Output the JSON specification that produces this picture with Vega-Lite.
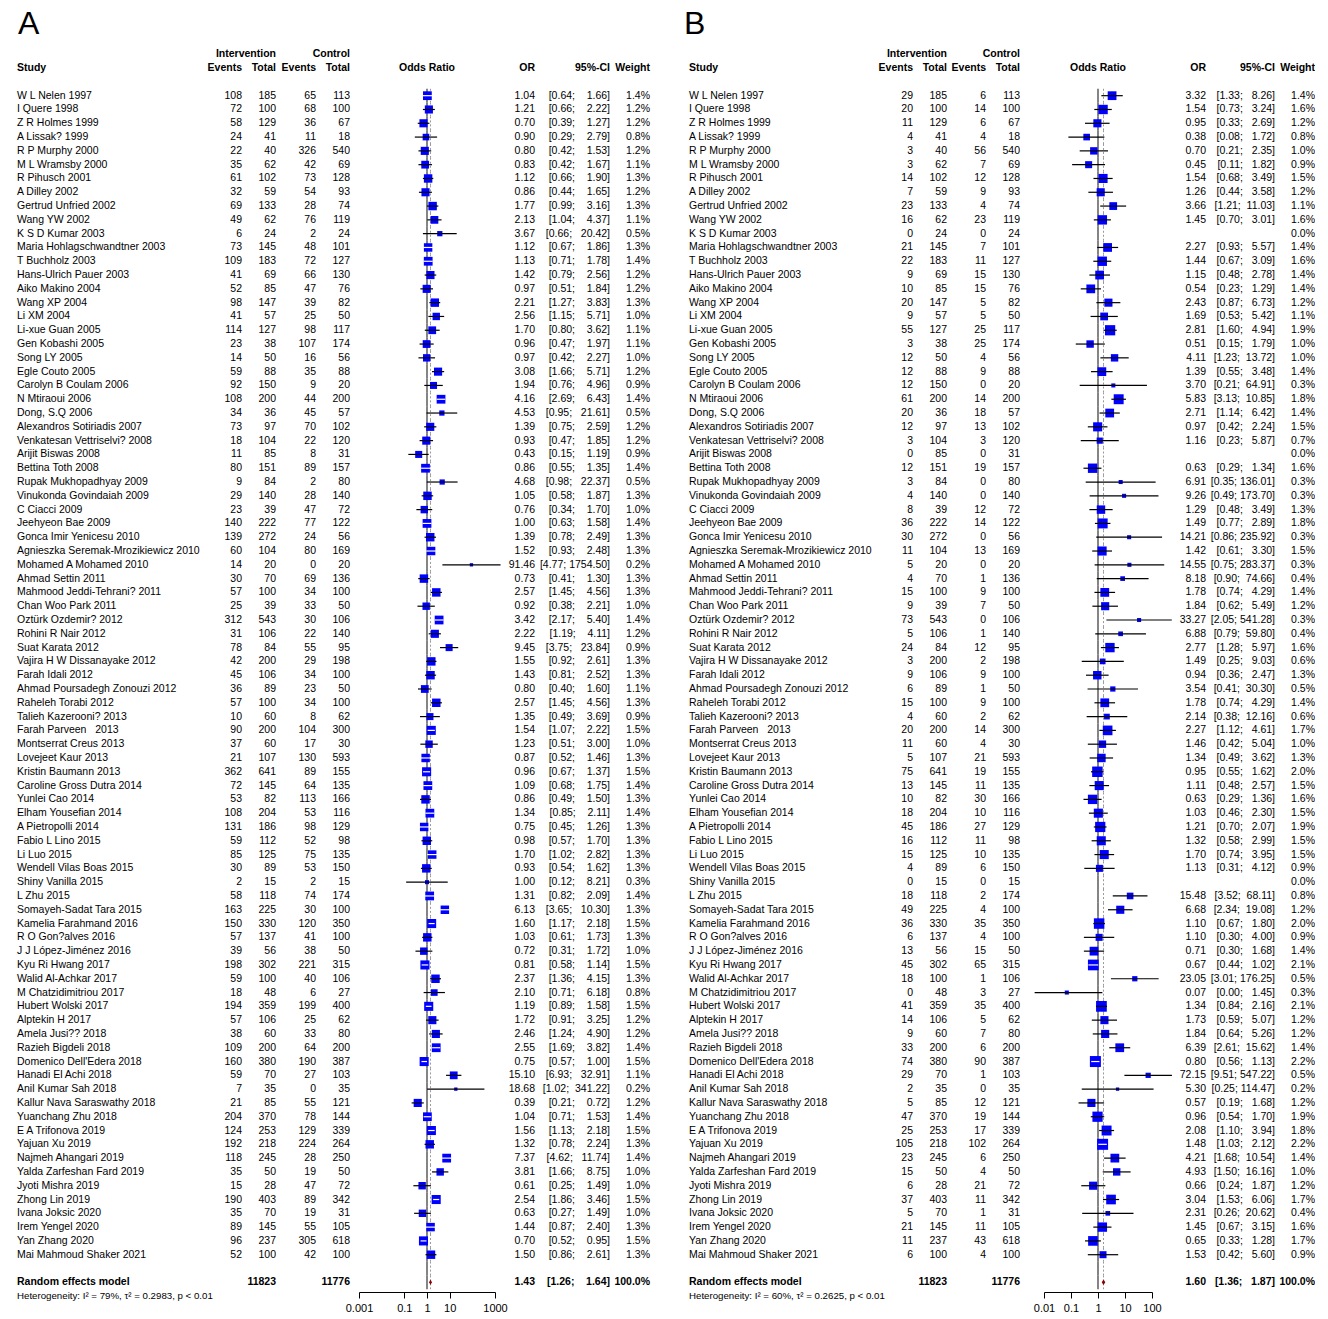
{
"$schema":"https://vega.github.io/schema/vega-lite/v6.json",
"background":"white",
"padding":{"left":17,"top":6,"right":0,"bottom":0},
"config":{"view":{"stroke":null},"text":{"font":"Liberation Sans","fontSize":10.5,"color":"black"},"axis":{"labelFont":"Liberation Sans"}},
"datasets":{
"A":[
{"k":"_p0","kind":"x"},{"k":"A","kind":"t"},{"k":"_p1","kind":"x"},{"k":"_h1","kind":"hd1"},{"k":"_h2","kind":"hd"},{"k":"_p2","kind":"x"},
{"k":"W L Nelen 1997","kind":"s","e1":108,"n1":185,"e2":65,"n2":113,"or":1.04,"lo":0.64,"hi":1.66,"ci":"[0.64;\u00a0\u00a0\u00a0\u00a01.66]","w":0.014},
{"k":"I Quere 1998","kind":"s","e1":72,"n1":100,"e2":68,"n2":100,"or":1.21,"lo":0.66,"hi":2.22,"ci":"[0.66;\u00a0\u00a0\u00a0\u00a02.22]","w":0.012},
{"k":"Z R Holmes 1999","kind":"s","e1":58,"n1":129,"e2":36,"n2":67,"or":0.70,"lo":0.39,"hi":1.27,"ci":"[0.39;\u00a0\u00a0\u00a0\u00a01.27]","w":0.012},
{"k":"A Lissak? 1999","kind":"s","e1":24,"n1":41,"e2":11,"n2":18,"or":0.90,"lo":0.29,"hi":2.79,"ci":"[0.29;\u00a0\u00a0\u00a0\u00a02.79]","w":0.008},
{"k":"R P Murphy 2000","kind":"s","e1":22,"n1":40,"e2":326,"n2":540,"or":0.80,"lo":0.42,"hi":1.53,"ci":"[0.42;\u00a0\u00a0\u00a0\u00a01.53]","w":0.012},
{"k":"M L Wramsby 2000","kind":"s","e1":35,"n1":62,"e2":42,"n2":69,"or":0.83,"lo":0.42,"hi":1.67,"ci":"[0.42;\u00a0\u00a0\u00a0\u00a01.67]","w":0.011},
{"k":"R Pihusch 2001","kind":"s","e1":61,"n1":102,"e2":73,"n2":128,"or":1.12,"lo":0.66,"hi":1.90,"ci":"[0.66;\u00a0\u00a0\u00a0\u00a01.90]","w":0.013},
{"k":"A Dilley 2002","kind":"s","e1":32,"n1":59,"e2":54,"n2":93,"or":0.86,"lo":0.44,"hi":1.65,"ci":"[0.44;\u00a0\u00a0\u00a0\u00a01.65]","w":0.012},
{"k":"Gertrud Unfried 2002","kind":"s","e1":69,"n1":133,"e2":28,"n2":74,"or":1.77,"lo":0.99,"hi":3.16,"ci":"[0.99;\u00a0\u00a0\u00a0\u00a03.16]","w":0.013},
{"k":"Wang YW 2002","kind":"s","e1":49,"n1":62,"e2":76,"n2":119,"or":2.13,"lo":1.04,"hi":4.37,"ci":"[1.04;\u00a0\u00a0\u00a0\u00a04.37]","w":0.011},
{"k":"K S D Kumar 2003","kind":"s","e1":6,"n1":24,"e2":2,"n2":24,"or":3.67,"lo":0.66,"hi":20.42,"ci":"[0.66;\u00a0\u00a0\u00a020.42]","w":0.005},
{"k":"Maria Hohlagschwandtner 2003","kind":"s","e1":73,"n1":145,"e2":48,"n2":101,"or":1.12,"lo":0.67,"hi":1.86,"ci":"[0.67;\u00a0\u00a0\u00a0\u00a01.86]","w":0.013},
{"k":"T Buchholz 2003","kind":"s","e1":109,"n1":183,"e2":72,"n2":127,"or":1.13,"lo":0.71,"hi":1.78,"ci":"[0.71;\u00a0\u00a0\u00a0\u00a01.78]","w":0.014},
{"k":"Hans-Ulrich Pauer 2003","kind":"s","e1":41,"n1":69,"e2":66,"n2":130,"or":1.42,"lo":0.79,"hi":2.56,"ci":"[0.79;\u00a0\u00a0\u00a0\u00a02.56]","w":0.012},
{"k":"Aiko Makino 2004","kind":"s","e1":52,"n1":85,"e2":47,"n2":76,"or":0.97,"lo":0.51,"hi":1.84,"ci":"[0.51;\u00a0\u00a0\u00a0\u00a01.84]","w":0.012},
{"k":"Wang XP 2004","kind":"s","e1":98,"n1":147,"e2":39,"n2":82,"or":2.21,"lo":1.27,"hi":3.83,"ci":"[1.27;\u00a0\u00a0\u00a0\u00a03.83]","w":0.013},
{"k":"Li XM 2004","kind":"s","e1":41,"n1":57,"e2":25,"n2":50,"or":2.56,"lo":1.15,"hi":5.71,"ci":"[1.15;\u00a0\u00a0\u00a0\u00a05.71]","w":0.010},
{"k":"Li-xue Guan 2005","kind":"s","e1":114,"n1":127,"e2":98,"n2":117,"or":1.70,"lo":0.80,"hi":3.62,"ci":"[0.80;\u00a0\u00a0\u00a0\u00a03.62]","w":0.011},
{"k":"Gen Kobashi 2005","kind":"s","e1":23,"n1":38,"e2":107,"n2":174,"or":0.96,"lo":0.47,"hi":1.97,"ci":"[0.47;\u00a0\u00a0\u00a0\u00a01.97]","w":0.011},
{"k":"Song LY 2005","kind":"s","e1":14,"n1":50,"e2":16,"n2":56,"or":0.97,"lo":0.42,"hi":2.27,"ci":"[0.42;\u00a0\u00a0\u00a0\u00a02.27]","w":0.010},
{"k":"Egle Couto 2005","kind":"s","e1":59,"n1":88,"e2":35,"n2":88,"or":3.08,"lo":1.66,"hi":5.71,"ci":"[1.66;\u00a0\u00a0\u00a0\u00a05.71]","w":0.012},
{"k":"Carolyn B Coulam 2006","kind":"s","e1":92,"n1":150,"e2":9,"n2":20,"or":1.94,"lo":0.76,"hi":4.96,"ci":"[0.76;\u00a0\u00a0\u00a0\u00a04.96]","w":0.009},
{"k":"N Mtiraoui 2006","kind":"s","e1":108,"n1":200,"e2":44,"n2":200,"or":4.16,"lo":2.69,"hi":6.43,"ci":"[2.69;\u00a0\u00a0\u00a0\u00a06.43]","w":0.014},
{"k":"Dong, S.Q 2006","kind":"s","e1":34,"n1":36,"e2":45,"n2":57,"or":4.53,"lo":0.95,"hi":21.61,"ci":"[0.95;\u00a0\u00a0\u00a021.61]","w":0.005},
{"k":"Alexandros Sotiriadis 2007","kind":"s","e1":73,"n1":97,"e2":70,"n2":102,"or":1.39,"lo":0.75,"hi":2.59,"ci":"[0.75;\u00a0\u00a0\u00a0\u00a02.59]","w":0.012},
{"k":"Venkatesan Vettriselvi? 2008","kind":"s","e1":18,"n1":104,"e2":22,"n2":120,"or":0.93,"lo":0.47,"hi":1.85,"ci":"[0.47;\u00a0\u00a0\u00a0\u00a01.85]","w":0.012},
{"k":"Arijit Biswas 2008","kind":"s","e1":11,"n1":85,"e2":8,"n2":31,"or":0.43,"lo":0.15,"hi":1.19,"ci":"[0.15;\u00a0\u00a0\u00a0\u00a01.19]","w":0.009},
{"k":"Bettina Toth 2008","kind":"s","e1":80,"n1":151,"e2":89,"n2":157,"or":0.86,"lo":0.55,"hi":1.35,"ci":"[0.55;\u00a0\u00a0\u00a0\u00a01.35]","w":0.014},
{"k":"Rupak Mukhopadhyay 2009","kind":"s","e1":9,"n1":84,"e2":2,"n2":80,"or":4.68,"lo":0.98,"hi":22.37,"ci":"[0.98;\u00a0\u00a0\u00a022.37]","w":0.005},
{"k":"Vinukonda Govindaiah 2009","kind":"s","e1":29,"n1":140,"e2":28,"n2":140,"or":1.05,"lo":0.58,"hi":1.87,"ci":"[0.58;\u00a0\u00a0\u00a0\u00a01.87]","w":0.013},
{"k":"C Ciacci 2009","kind":"s","e1":23,"n1":39,"e2":47,"n2":72,"or":0.76,"lo":0.34,"hi":1.70,"ci":"[0.34;\u00a0\u00a0\u00a0\u00a01.70]","w":0.010},
{"k":"Jeehyeon Bae 2009","kind":"s","e1":140,"n1":222,"e2":77,"n2":122,"or":1.00,"lo":0.63,"hi":1.58,"ci":"[0.63;\u00a0\u00a0\u00a0\u00a01.58]","w":0.014},
{"k":"Gonca Imir Yenicesu 2010","kind":"s","e1":139,"n1":272,"e2":24,"n2":56,"or":1.39,"lo":0.78,"hi":2.49,"ci":"[0.78;\u00a0\u00a0\u00a0\u00a02.49]","w":0.013},
{"k":"Agnieszka Seremak-Mrozikiewicz 2010","kind":"s","e1":60,"n1":104,"e2":80,"n2":169,"or":1.52,"lo":0.93,"hi":2.48,"ci":"[0.93;\u00a0\u00a0\u00a0\u00a02.48]","w":0.013},
{"k":"Mohamed A Mohamed 2010","kind":"s","e1":14,"n1":20,"e2":0,"n2":20,"or":91.46,"lo":4.77,"hi":1754.50,"ci":"[4.77;\u00a01754.50]","w":0.002},
{"k":"Ahmad Settin 2011","kind":"s","e1":30,"n1":70,"e2":69,"n2":136,"or":0.73,"lo":0.41,"hi":1.30,"ci":"[0.41;\u00a0\u00a0\u00a0\u00a01.30]","w":0.013},
{"k":"Mahmood Jeddi-Tehrani? 2011","kind":"s","e1":57,"n1":100,"e2":34,"n2":100,"or":2.57,"lo":1.45,"hi":4.56,"ci":"[1.45;\u00a0\u00a0\u00a0\u00a04.56]","w":0.013},
{"k":"Chan Woo Park 2011","kind":"s","e1":25,"n1":39,"e2":33,"n2":50,"or":0.92,"lo":0.38,"hi":2.21,"ci":"[0.38;\u00a0\u00a0\u00a0\u00a02.21]","w":0.010},
{"k":"Oztürk Ozdemir? 2012","kind":"s","e1":312,"n1":543,"e2":30,"n2":106,"or":3.42,"lo":2.17,"hi":5.40,"ci":"[2.17;\u00a0\u00a0\u00a0\u00a05.40]","w":0.014},
{"k":"Rohini R Nair 2012","kind":"s","e1":31,"n1":106,"e2":22,"n2":140,"or":2.22,"lo":1.19,"hi":4.11,"ci":"[1.19;\u00a0\u00a0\u00a0\u00a04.11]","w":0.012},
{"k":"Suat Karata 2012","kind":"s","e1":78,"n1":84,"e2":55,"n2":95,"or":9.45,"lo":3.75,"hi":23.84,"ci":"[3.75;\u00a0\u00a0\u00a023.84]","w":0.009},
{"k":"Vajira H W Dissanayake 2012","kind":"s","e1":42,"n1":200,"e2":29,"n2":198,"or":1.55,"lo":0.92,"hi":2.61,"ci":"[0.92;\u00a0\u00a0\u00a0\u00a02.61]","w":0.013},
{"k":"Farah Idali 2012","kind":"s","e1":45,"n1":106,"e2":34,"n2":100,"or":1.43,"lo":0.81,"hi":2.52,"ci":"[0.81;\u00a0\u00a0\u00a0\u00a02.52]","w":0.013},
{"k":"Ahmad Poursadegh Zonouzi 2012","kind":"s","e1":36,"n1":89,"e2":23,"n2":50,"or":0.80,"lo":0.40,"hi":1.60,"ci":"[0.40;\u00a0\u00a0\u00a0\u00a01.60]","w":0.011},
{"k":"Raheleh Torabi 2012","kind":"s","e1":57,"n1":100,"e2":34,"n2":100,"or":2.57,"lo":1.45,"hi":4.56,"ci":"[1.45;\u00a0\u00a0\u00a0\u00a04.56]","w":0.013},
{"k":"Talieh Kazerooni? 2013","kind":"s","e1":10,"n1":60,"e2":8,"n2":62,"or":1.35,"lo":0.49,"hi":3.69,"ci":"[0.49;\u00a0\u00a0\u00a0\u00a03.69]","w":0.009},
{"k":"Farah Parveen\u00a0\u00a0\u00a02013","kind":"s","e1":90,"n1":200,"e2":104,"n2":300,"or":1.54,"lo":1.07,"hi":2.22,"ci":"[1.07;\u00a0\u00a0\u00a0\u00a02.22]","w":0.015},
{"k":"Montserrat Creus 2013","kind":"s","e1":37,"n1":60,"e2":17,"n2":30,"or":1.23,"lo":0.51,"hi":3.00,"ci":"[0.51;\u00a0\u00a0\u00a0\u00a03.00]","w":0.010},
{"k":"Lovejeet Kaur 2013","kind":"s","e1":21,"n1":107,"e2":130,"n2":593,"or":0.87,"lo":0.52,"hi":1.46,"ci":"[0.52;\u00a0\u00a0\u00a0\u00a01.46]","w":0.013},
{"k":"Kristin Baumann 2013","kind":"s","e1":362,"n1":641,"e2":89,"n2":155,"or":0.96,"lo":0.67,"hi":1.37,"ci":"[0.67;\u00a0\u00a0\u00a0\u00a01.37]","w":0.015},
{"k":"Caroline Gross Dutra 2014","kind":"s","e1":72,"n1":145,"e2":64,"n2":135,"or":1.09,"lo":0.68,"hi":1.75,"ci":"[0.68;\u00a0\u00a0\u00a0\u00a01.75]","w":0.014},
{"k":"Yunlei Cao 2014","kind":"s","e1":53,"n1":82,"e2":113,"n2":166,"or":0.86,"lo":0.49,"hi":1.50,"ci":"[0.49;\u00a0\u00a0\u00a0\u00a01.50]","w":0.013},
{"k":"Elham Yousefian 2014","kind":"s","e1":108,"n1":204,"e2":53,"n2":116,"or":1.34,"lo":0.85,"hi":2.11,"ci":"[0.85;\u00a0\u00a0\u00a0\u00a02.11]","w":0.014},
{"k":"A Pietropolli 2014","kind":"s","e1":131,"n1":186,"e2":98,"n2":129,"or":0.75,"lo":0.45,"hi":1.26,"ci":"[0.45;\u00a0\u00a0\u00a0\u00a01.26]","w":0.013},
{"k":"Fabio L Lino 2015","kind":"s","e1":59,"n1":112,"e2":52,"n2":98,"or":0.98,"lo":0.57,"hi":1.70,"ci":"[0.57;\u00a0\u00a0\u00a0\u00a01.70]","w":0.013},
{"k":"Li Luo 2015","kind":"s","e1":85,"n1":125,"e2":75,"n2":135,"or":1.70,"lo":1.02,"hi":2.82,"ci":"[1.02;\u00a0\u00a0\u00a0\u00a02.82]","w":0.013},
{"k":"Wendell Vilas Boas 2015","kind":"s","e1":30,"n1":89,"e2":53,"n2":150,"or":0.93,"lo":0.54,"hi":1.62,"ci":"[0.54;\u00a0\u00a0\u00a0\u00a01.62]","w":0.013},
{"k":"Shiny Vanilla 2015","kind":"s","e1":2,"n1":15,"e2":2,"n2":15,"or":1.00,"lo":0.12,"hi":8.21,"ci":"[0.12;\u00a0\u00a0\u00a0\u00a08.21]","w":0.003},
{"k":"L Zhu 2015","kind":"s","e1":58,"n1":118,"e2":74,"n2":174,"or":1.31,"lo":0.82,"hi":2.09,"ci":"[0.82;\u00a0\u00a0\u00a0\u00a02.09]","w":0.014},
{"k":"Somayeh-Sadat Tara 2015","kind":"s","e1":163,"n1":225,"e2":30,"n2":100,"or":6.13,"lo":3.65,"hi":10.30,"ci":"[3.65;\u00a0\u00a0\u00a010.30]","w":0.013},
{"k":"Kamelia Farahmand 2016","kind":"s","e1":150,"n1":330,"e2":120,"n2":350,"or":1.60,"lo":1.17,"hi":2.18,"ci":"[1.17;\u00a0\u00a0\u00a0\u00a02.18]","w":0.015},
{"k":"R O Gon?alves 2016","kind":"s","e1":57,"n1":137,"e2":41,"n2":100,"or":1.03,"lo":0.61,"hi":1.73,"ci":"[0.61;\u00a0\u00a0\u00a0\u00a01.73]","w":0.013},
{"k":"J J López-Jiménez 2016","kind":"s","e1":39,"n1":56,"e2":38,"n2":50,"or":0.72,"lo":0.31,"hi":1.72,"ci":"[0.31;\u00a0\u00a0\u00a0\u00a01.72]","w":0.010},
{"k":"Kyu Ri Hwang 2017","kind":"s","e1":198,"n1":302,"e2":221,"n2":315,"or":0.81,"lo":0.58,"hi":1.14,"ci":"[0.58;\u00a0\u00a0\u00a0\u00a01.14]","w":0.015},
{"k":"Walid Al-Achkar 2017","kind":"s","e1":59,"n1":100,"e2":40,"n2":106,"or":2.37,"lo":1.36,"hi":4.15,"ci":"[1.36;\u00a0\u00a0\u00a0\u00a04.15]","w":0.013},
{"k":"M Chatzidimitriou 2017","kind":"s","e1":18,"n1":48,"e2":6,"n2":27,"or":2.10,"lo":0.71,"hi":6.18,"ci":"[0.71;\u00a0\u00a0\u00a0\u00a06.18]","w":0.008},
{"k":"Hubert Wolski 2017","kind":"s","e1":194,"n1":359,"e2":199,"n2":400,"or":1.19,"lo":0.89,"hi":1.58,"ci":"[0.89;\u00a0\u00a0\u00a0\u00a01.58]","w":0.015},
{"k":"Alptekin H 2017","kind":"s","e1":57,"n1":106,"e2":25,"n2":62,"or":1.72,"lo":0.91,"hi":3.25,"ci":"[0.91;\u00a0\u00a0\u00a0\u00a03.25]","w":0.012},
{"k":"Amela Jusi?? 2018","kind":"s","e1":38,"n1":60,"e2":33,"n2":80,"or":2.46,"lo":1.24,"hi":4.90,"ci":"[1.24;\u00a0\u00a0\u00a0\u00a04.90]","w":0.012},
{"k":"Razieh Bigdeli 2018","kind":"s","e1":109,"n1":200,"e2":64,"n2":200,"or":2.55,"lo":1.69,"hi":3.82,"ci":"[1.69;\u00a0\u00a0\u00a0\u00a03.82]","w":0.014},
{"k":"Domenico Dell'Edera 2018","kind":"s","e1":160,"n1":380,"e2":190,"n2":387,"or":0.75,"lo":0.57,"hi":1.00,"ci":"[0.57;\u00a0\u00a0\u00a0\u00a01.00]","w":0.015},
{"k":"Hanadi El Achi 2018","kind":"s","e1":59,"n1":70,"e2":27,"n2":103,"or":15.10,"lo":6.93,"hi":32.91,"ci":"[6.93;\u00a0\u00a0\u00a032.91]","w":0.011},
{"k":"Anil Kumar Sah 2018","kind":"s","e1":7,"n1":35,"e2":0,"n2":35,"or":18.68,"lo":1.02,"hi":341.22,"ci":"[1.02;\u00a0\u00a0341.22]","w":0.002},
{"k":"Kallur Nava Saraswathy 2018","kind":"s","e1":21,"n1":85,"e2":55,"n2":121,"or":0.39,"lo":0.21,"hi":0.72,"ci":"[0.21;\u00a0\u00a0\u00a0\u00a00.72]","w":0.012},
{"k":"Yuanchang Zhu 2018","kind":"s","e1":204,"n1":370,"e2":78,"n2":144,"or":1.04,"lo":0.71,"hi":1.53,"ci":"[0.71;\u00a0\u00a0\u00a0\u00a01.53]","w":0.014},
{"k":"E A Trifonova 2019","kind":"s","e1":124,"n1":253,"e2":129,"n2":339,"or":1.56,"lo":1.13,"hi":2.18,"ci":"[1.13;\u00a0\u00a0\u00a0\u00a02.18]","w":0.015},
{"k":"Yajuan Xu 2019","kind":"s","e1":192,"n1":218,"e2":224,"n2":264,"or":1.32,"lo":0.78,"hi":2.24,"ci":"[0.78;\u00a0\u00a0\u00a0\u00a02.24]","w":0.013},
{"k":"Najmeh Ahangari 2019","kind":"s","e1":118,"n1":245,"e2":28,"n2":250,"or":7.37,"lo":4.62,"hi":11.74,"ci":"[4.62;\u00a0\u00a0\u00a011.74]","w":0.014},
{"k":"Yalda Zarfeshan Fard 2019","kind":"s","e1":35,"n1":50,"e2":19,"n2":50,"or":3.81,"lo":1.66,"hi":8.75,"ci":"[1.66;\u00a0\u00a0\u00a0\u00a08.75]","w":0.010},
{"k":"Jyoti Mishra 2019","kind":"s","e1":15,"n1":28,"e2":47,"n2":72,"or":0.61,"lo":0.25,"hi":1.49,"ci":"[0.25;\u00a0\u00a0\u00a0\u00a01.49]","w":0.010},
{"k":"Zhong Lin 2019","kind":"s","e1":190,"n1":403,"e2":89,"n2":342,"or":2.54,"lo":1.86,"hi":3.46,"ci":"[1.86;\u00a0\u00a0\u00a0\u00a03.46]","w":0.015},
{"k":"Ivana Joksic 2020","kind":"s","e1":35,"n1":70,"e2":19,"n2":31,"or":0.63,"lo":0.27,"hi":1.49,"ci":"[0.27;\u00a0\u00a0\u00a0\u00a01.49]","w":0.010},
{"k":"Irem Yengel 2020","kind":"s","e1":89,"n1":145,"e2":55,"n2":105,"or":1.44,"lo":0.87,"hi":2.40,"ci":"[0.87;\u00a0\u00a0\u00a0\u00a02.40]","w":0.013},
{"k":"Yan Zhang 2020","kind":"s","e1":96,"n1":237,"e2":305,"n2":618,"or":0.70,"lo":0.52,"hi":0.95,"ci":"[0.52;\u00a0\u00a0\u00a0\u00a00.95]","w":0.015},
{"k":"Mai Mahmoud Shaker 2021","kind":"s","e1":52,"n1":100,"e2":42,"n2":100,"or":1.50,"lo":0.86,"hi":2.61,"ci":"[0.86;\u00a0\u00a0\u00a0\u00a02.61]","w":0.013},
{"k":"_b","kind":"b"},
{"k":"Random effects model","kind":"m","n1":11823,"n2":11776,"or":1.43,"lo":1.26,"hi":1.64,"ci":"[1.26;\u00a0\u00a0\u00a0\u00a01.64]","w":1},
{"k":"Heterogeneity: I\u00b2 = 79%, \u03c4\u00b2 = 0.2983, p < 0.01","kind":"h"}
],
"B":[
{"k":"_p0","kind":"x"},{"k":"B","kind":"t"},{"k":"_p1","kind":"x"},{"k":"_h1","kind":"hd1"},{"k":"_h2","kind":"hd"},{"k":"_p2","kind":"x"},
{"k":"W L Nelen 1997","kind":"s","e1":29,"n1":185,"e2":6,"n2":113,"or":3.32,"lo":1.33,"hi":8.26,"ci":"[1.33;\u00a0\u00a0\u00a08.26]","w":0.014},
{"k":"I Quere 1998","kind":"s","e1":20,"n1":100,"e2":14,"n2":100,"or":1.54,"lo":0.73,"hi":3.24,"ci":"[0.73;\u00a0\u00a0\u00a03.24]","w":0.016},
{"k":"Z R Holmes 1999","kind":"s","e1":11,"n1":129,"e2":6,"n2":67,"or":0.95,"lo":0.33,"hi":2.69,"ci":"[0.33;\u00a0\u00a0\u00a02.69]","w":0.012},
{"k":"A Lissak? 1999","kind":"s","e1":4,"n1":41,"e2":4,"n2":18,"or":0.38,"lo":0.08,"hi":1.72,"ci":"[0.08;\u00a0\u00a0\u00a01.72]","w":0.008},
{"k":"R P Murphy 2000","kind":"s","e1":3,"n1":40,"e2":56,"n2":540,"or":0.70,"lo":0.21,"hi":2.35,"ci":"[0.21;\u00a0\u00a0\u00a02.35]","w":0.010},
{"k":"M L Wramsby 2000","kind":"s","e1":3,"n1":62,"e2":7,"n2":69,"or":0.45,"lo":0.11,"hi":1.82,"ci":"[0.11;\u00a0\u00a0\u00a01.82]","w":0.009},
{"k":"R Pihusch 2001","kind":"s","e1":14,"n1":102,"e2":12,"n2":128,"or":1.54,"lo":0.68,"hi":3.49,"ci":"[0.68;\u00a0\u00a0\u00a03.49]","w":0.015},
{"k":"A Dilley 2002","kind":"s","e1":7,"n1":59,"e2":9,"n2":93,"or":1.26,"lo":0.44,"hi":3.58,"ci":"[0.44;\u00a0\u00a0\u00a03.58]","w":0.012},
{"k":"Gertrud Unfried 2002","kind":"s","e1":23,"n1":133,"e2":4,"n2":74,"or":3.66,"lo":1.21,"hi":11.03,"ci":"[1.21;\u00a0\u00a011.03]","w":0.011},
{"k":"Wang YW 2002","kind":"s","e1":16,"n1":62,"e2":23,"n2":119,"or":1.45,"lo":0.70,"hi":3.01,"ci":"[0.70;\u00a0\u00a0\u00a03.01]","w":0.016},
{"k":"K S D Kumar 2003","kind":"s","e1":0,"n1":24,"e2":0,"n2":24,"w":0},
{"k":"Maria Hohlagschwandtner 2003","kind":"s","e1":21,"n1":145,"e2":7,"n2":101,"or":2.27,"lo":0.93,"hi":5.57,"ci":"[0.93;\u00a0\u00a0\u00a05.57]","w":0.014},
{"k":"T Buchholz 2003","kind":"s","e1":22,"n1":183,"e2":11,"n2":127,"or":1.44,"lo":0.67,"hi":3.09,"ci":"[0.67;\u00a0\u00a0\u00a03.09]","w":0.016},
{"k":"Hans-Ulrich Pauer 2003","kind":"s","e1":9,"n1":69,"e2":15,"n2":130,"or":1.15,"lo":0.48,"hi":2.78,"ci":"[0.48;\u00a0\u00a0\u00a02.78]","w":0.014},
{"k":"Aiko Makino 2004","kind":"s","e1":10,"n1":85,"e2":15,"n2":76,"or":0.54,"lo":0.23,"hi":1.29,"ci":"[0.23;\u00a0\u00a0\u00a01.29]","w":0.014},
{"k":"Wang XP 2004","kind":"s","e1":20,"n1":147,"e2":5,"n2":82,"or":2.43,"lo":0.87,"hi":6.73,"ci":"[0.87;\u00a0\u00a0\u00a06.73]","w":0.012},
{"k":"Li XM 2004","kind":"s","e1":9,"n1":57,"e2":5,"n2":50,"or":1.69,"lo":0.53,"hi":5.42,"ci":"[0.53;\u00a0\u00a0\u00a05.42]","w":0.011},
{"k":"Li-xue Guan 2005","kind":"s","e1":55,"n1":127,"e2":25,"n2":117,"or":2.81,"lo":1.60,"hi":4.94,"ci":"[1.60;\u00a0\u00a0\u00a04.94]","w":0.019},
{"k":"Gen Kobashi 2005","kind":"s","e1":3,"n1":38,"e2":25,"n2":174,"or":0.51,"lo":0.15,"hi":1.79,"ci":"[0.15;\u00a0\u00a0\u00a01.79]","w":0.010},
{"k":"Song LY 2005","kind":"s","e1":12,"n1":50,"e2":4,"n2":56,"or":4.11,"lo":1.23,"hi":13.72,"ci":"[1.23;\u00a0\u00a013.72]","w":0.010},
{"k":"Egle Couto 2005","kind":"s","e1":12,"n1":88,"e2":9,"n2":88,"or":1.39,"lo":0.55,"hi":3.48,"ci":"[0.55;\u00a0\u00a0\u00a03.48]","w":0.014},
{"k":"Carolyn B Coulam 2006","kind":"s","e1":12,"n1":150,"e2":0,"n2":20,"or":3.70,"lo":0.21,"hi":64.91,"ci":"[0.21;\u00a0\u00a064.91]","w":0.003},
{"k":"N Mtiraoui 2006","kind":"s","e1":61,"n1":200,"e2":14,"n2":200,"or":5.83,"lo":3.13,"hi":10.85,"ci":"[3.13;\u00a0\u00a010.85]","w":0.018},
{"k":"Dong, S.Q 2006","kind":"s","e1":20,"n1":36,"e2":18,"n2":57,"or":2.71,"lo":1.14,"hi":6.42,"ci":"[1.14;\u00a0\u00a0\u00a06.42]","w":0.014},
{"k":"Alexandros Sotiriadis 2007","kind":"s","e1":12,"n1":97,"e2":13,"n2":102,"or":0.97,"lo":0.42,"hi":2.24,"ci":"[0.42;\u00a0\u00a0\u00a02.24]","w":0.015},
{"k":"Venkatesan Vettriselvi? 2008","kind":"s","e1":3,"n1":104,"e2":3,"n2":120,"or":1.16,"lo":0.23,"hi":5.87,"ci":"[0.23;\u00a0\u00a0\u00a05.87]","w":0.007},
{"k":"Arijit Biswas 2008","kind":"s","e1":0,"n1":85,"e2":0,"n2":31,"w":0},
{"k":"Bettina Toth 2008","kind":"s","e1":12,"n1":151,"e2":19,"n2":157,"or":0.63,"lo":0.29,"hi":1.34,"ci":"[0.29;\u00a0\u00a0\u00a01.34]","w":0.016},
{"k":"Rupak Mukhopadhyay 2009","kind":"s","e1":3,"n1":84,"e2":0,"n2":80,"or":6.91,"lo":0.35,"hi":136.01,"ci":"[0.35;\u00a0136.01]","w":0.003},
{"k":"Vinukonda Govindaiah 2009","kind":"s","e1":4,"n1":140,"e2":0,"n2":140,"or":9.26,"lo":0.49,"hi":173.70,"ci":"[0.49;\u00a0173.70]","w":0.003},
{"k":"C Ciacci 2009","kind":"s","e1":8,"n1":39,"e2":12,"n2":72,"or":1.29,"lo":0.48,"hi":3.49,"ci":"[0.48;\u00a0\u00a0\u00a03.49]","w":0.013},
{"k":"Jeehyeon Bae 2009","kind":"s","e1":36,"n1":222,"e2":14,"n2":122,"or":1.49,"lo":0.77,"hi":2.89,"ci":"[0.77;\u00a0\u00a0\u00a02.89]","w":0.018},
{"k":"Gonca Imir Yenicesu 2010","kind":"s","e1":30,"n1":272,"e2":0,"n2":56,"or":14.21,"lo":0.86,"hi":235.92,"ci":"[0.86;\u00a0235.92]","w":0.003},
{"k":"Agnieszka Seremak-Mrozikiewicz 2010","kind":"s","e1":11,"n1":104,"e2":13,"n2":169,"or":1.42,"lo":0.61,"hi":3.30,"ci":"[0.61;\u00a0\u00a0\u00a03.30]","w":0.015},
{"k":"Mohamed A Mohamed 2010","kind":"s","e1":5,"n1":20,"e2":0,"n2":20,"or":14.55,"lo":0.75,"hi":283.37,"ci":"[0.75;\u00a0283.37]","w":0.003},
{"k":"Ahmad Settin 2011","kind":"s","e1":4,"n1":70,"e2":1,"n2":136,"or":8.18,"lo":0.90,"hi":74.66,"ci":"[0.90;\u00a0\u00a074.66]","w":0.004},
{"k":"Mahmood Jeddi-Tehrani? 2011","kind":"s","e1":15,"n1":100,"e2":9,"n2":100,"or":1.78,"lo":0.74,"hi":4.29,"ci":"[0.74;\u00a0\u00a0\u00a04.29]","w":0.014},
{"k":"Chan Woo Park 2011","kind":"s","e1":9,"n1":39,"e2":7,"n2":50,"or":1.84,"lo":0.62,"hi":5.49,"ci":"[0.62;\u00a0\u00a0\u00a05.49]","w":0.012},
{"k":"Oztürk Ozdemir? 2012","kind":"s","e1":73,"n1":543,"e2":0,"n2":106,"or":33.27,"lo":2.05,"hi":541.28,"ci":"[2.05;\u00a0541.28]","w":0.003},
{"k":"Rohini R Nair 2012","kind":"s","e1":5,"n1":106,"e2":1,"n2":140,"or":6.88,"lo":0.79,"hi":59.80,"ci":"[0.79;\u00a0\u00a059.80]","w":0.004},
{"k":"Suat Karata 2012","kind":"s","e1":24,"n1":84,"e2":12,"n2":95,"or":2.77,"lo":1.28,"hi":5.97,"ci":"[1.28;\u00a0\u00a0\u00a05.97]","w":0.016},
{"k":"Vajira H W Dissanayake 2012","kind":"s","e1":3,"n1":200,"e2":2,"n2":198,"or":1.49,"lo":0.25,"hi":9.03,"ci":"[0.25;\u00a0\u00a0\u00a09.03]","w":0.006},
{"k":"Farah Idali 2012","kind":"s","e1":9,"n1":106,"e2":9,"n2":100,"or":0.94,"lo":0.36,"hi":2.47,"ci":"[0.36;\u00a0\u00a0\u00a02.47]","w":0.013},
{"k":"Ahmad Poursadegh Zonouzi 2012","kind":"s","e1":6,"n1":89,"e2":1,"n2":50,"or":3.54,"lo":0.41,"hi":30.30,"ci":"[0.41;\u00a0\u00a030.30]","w":0.005},
{"k":"Raheleh Torabi 2012","kind":"s","e1":15,"n1":100,"e2":9,"n2":100,"or":1.78,"lo":0.74,"hi":4.29,"ci":"[0.74;\u00a0\u00a0\u00a04.29]","w":0.014},
{"k":"Talieh Kazerooni? 2013","kind":"s","e1":4,"n1":60,"e2":2,"n2":62,"or":2.14,"lo":0.38,"hi":12.16,"ci":"[0.38;\u00a0\u00a012.16]","w":0.006},
{"k":"Farah Parveen\u00a0\u00a0\u00a02013","kind":"s","e1":20,"n1":200,"e2":14,"n2":300,"or":2.27,"lo":1.12,"hi":4.61,"ci":"[1.12;\u00a0\u00a0\u00a04.61]","w":0.017},
{"k":"Montserrat Creus 2013","kind":"s","e1":11,"n1":60,"e2":4,"n2":30,"or":1.46,"lo":0.42,"hi":5.04,"ci":"[0.42;\u00a0\u00a0\u00a05.04]","w":0.010},
{"k":"Lovejeet Kaur 2013","kind":"s","e1":5,"n1":107,"e2":21,"n2":593,"or":1.34,"lo":0.49,"hi":3.62,"ci":"[0.49;\u00a0\u00a0\u00a03.62]","w":0.013},
{"k":"Kristin Baumann 2013","kind":"s","e1":75,"n1":641,"e2":19,"n2":155,"or":0.95,"lo":0.55,"hi":1.62,"ci":"[0.55;\u00a0\u00a0\u00a01.62]","w":0.020},
{"k":"Caroline Gross Dutra 2014","kind":"s","e1":13,"n1":145,"e2":11,"n2":135,"or":1.11,"lo":0.48,"hi":2.57,"ci":"[0.48;\u00a0\u00a0\u00a02.57]","w":0.015},
{"k":"Yunlei Cao 2014","kind":"s","e1":10,"n1":82,"e2":30,"n2":166,"or":0.63,"lo":0.29,"hi":1.36,"ci":"[0.29;\u00a0\u00a0\u00a01.36]","w":0.016},
{"k":"Elham Yousefian 2014","kind":"s","e1":18,"n1":204,"e2":10,"n2":116,"or":1.03,"lo":0.46,"hi":2.30,"ci":"[0.46;\u00a0\u00a0\u00a02.30]","w":0.015},
{"k":"A Pietropolli 2014","kind":"s","e1":45,"n1":186,"e2":27,"n2":129,"or":1.21,"lo":0.70,"hi":2.07,"ci":"[0.70;\u00a0\u00a0\u00a02.07]","w":0.019},
{"k":"Fabio L Lino 2015","kind":"s","e1":16,"n1":112,"e2":11,"n2":98,"or":1.32,"lo":0.58,"hi":2.99,"ci":"[0.58;\u00a0\u00a0\u00a02.99]","w":0.015},
{"k":"Li Luo 2015","kind":"s","e1":15,"n1":125,"e2":10,"n2":135,"or":1.70,"lo":0.74,"hi":3.95,"ci":"[0.74;\u00a0\u00a0\u00a03.95]","w":0.015},
{"k":"Wendell Vilas Boas 2015","kind":"s","e1":4,"n1":89,"e2":6,"n2":150,"or":1.13,"lo":0.31,"hi":4.12,"ci":"[0.31;\u00a0\u00a0\u00a04.12]","w":0.009},
{"k":"Shiny Vanilla 2015","kind":"s","e1":0,"n1":15,"e2":0,"n2":15,"w":0},
{"k":"L Zhu 2015","kind":"s","e1":18,"n1":118,"e2":2,"n2":174,"or":15.48,"lo":3.52,"hi":68.11,"ci":"[3.52;\u00a0\u00a068.11]","w":0.008},
{"k":"Somayeh-Sadat Tara 2015","kind":"s","e1":49,"n1":225,"e2":4,"n2":100,"or":6.68,"lo":2.34,"hi":19.08,"ci":"[2.34;\u00a0\u00a019.08]","w":0.012},
{"k":"Kamelia Farahmand 2016","kind":"s","e1":36,"n1":330,"e2":35,"n2":350,"or":1.10,"lo":0.67,"hi":1.80,"ci":"[0.67;\u00a0\u00a0\u00a01.80]","w":0.020},
{"k":"R O Gon?alves 2016","kind":"s","e1":6,"n1":137,"e2":4,"n2":100,"or":1.10,"lo":0.30,"hi":4.00,"ci":"[0.30;\u00a0\u00a0\u00a04.00]","w":0.009},
{"k":"J J López-Jiménez 2016","kind":"s","e1":13,"n1":56,"e2":15,"n2":50,"or":0.71,"lo":0.30,"hi":1.68,"ci":"[0.30;\u00a0\u00a0\u00a01.68]","w":0.014},
{"k":"Kyu Ri Hwang 2017","kind":"s","e1":45,"n1":302,"e2":65,"n2":315,"or":0.67,"lo":0.44,"hi":1.02,"ci":"[0.44;\u00a0\u00a0\u00a01.02]","w":0.021},
{"k":"Walid Al-Achkar 2017","kind":"s","e1":18,"n1":100,"e2":1,"n2":106,"or":23.05,"lo":3.01,"hi":176.25,"ci":"[3.01;\u00a0176.25]","w":0.005},
{"k":"M Chatzidimitriou 2017","kind":"s","e1":0,"n1":48,"e2":3,"n2":27,"or":0.07,"lo":0.0045,"hi":1.45,"ci":"[0.00;\u00a0\u00a0\u00a01.45]","w":0.003},
{"k":"Hubert Wolski 2017","kind":"s","e1":41,"n1":359,"e2":35,"n2":400,"or":1.34,"lo":0.84,"hi":2.16,"ci":"[0.84;\u00a0\u00a0\u00a02.16]","w":0.021},
{"k":"Alptekin H 2017","kind":"s","e1":14,"n1":106,"e2":5,"n2":62,"or":1.73,"lo":0.59,"hi":5.07,"ci":"[0.59;\u00a0\u00a0\u00a05.07]","w":0.012},
{"k":"Amela Jusi?? 2018","kind":"s","e1":9,"n1":60,"e2":7,"n2":80,"or":1.84,"lo":0.64,"hi":5.26,"ci":"[0.64;\u00a0\u00a0\u00a05.26]","w":0.012},
{"k":"Razieh Bigdeli 2018","kind":"s","e1":33,"n1":200,"e2":6,"n2":200,"or":6.39,"lo":2.61,"hi":15.62,"ci":"[2.61;\u00a0\u00a015.62]","w":0.014},
{"k":"Domenico Dell'Edera 2018","kind":"s","e1":74,"n1":380,"e2":90,"n2":387,"or":0.80,"lo":0.56,"hi":1.13,"ci":"[0.56;\u00a0\u00a0\u00a01.13]","w":0.022},
{"k":"Hanadi El Achi 2018","kind":"s","e1":29,"n1":70,"e2":1,"n2":103,"or":72.15,"lo":9.51,"hi":547.22,"ci":"[9.51;\u00a0547.22]","w":0.005},
{"k":"Anil Kumar Sah 2018","kind":"s","e1":2,"n1":35,"e2":0,"n2":35,"or":5.30,"lo":0.25,"hi":114.47,"ci":"[0.25;\u00a0114.47]","w":0.002},
{"k":"Kallur Nava Saraswathy 2018","kind":"s","e1":5,"n1":85,"e2":12,"n2":121,"or":0.57,"lo":0.19,"hi":1.68,"ci":"[0.19;\u00a0\u00a0\u00a01.68]","w":0.012},
{"k":"Yuanchang Zhu 2018","kind":"s","e1":47,"n1":370,"e2":19,"n2":144,"or":0.96,"lo":0.54,"hi":1.70,"ci":"[0.54;\u00a0\u00a0\u00a01.70]","w":0.019},
{"k":"E A Trifonova 2019","kind":"s","e1":25,"n1":253,"e2":17,"n2":339,"or":2.08,"lo":1.10,"hi":3.94,"ci":"[1.10;\u00a0\u00a0\u00a03.94]","w":0.018},
{"k":"Yajuan Xu 2019","kind":"s","e1":105,"n1":218,"e2":102,"n2":264,"or":1.48,"lo":1.03,"hi":2.12,"ci":"[1.03;\u00a0\u00a0\u00a02.12]","w":0.022},
{"k":"Najmeh Ahangari 2019","kind":"s","e1":23,"n1":245,"e2":6,"n2":250,"or":4.21,"lo":1.68,"hi":10.54,"ci":"[1.68;\u00a0\u00a010.54]","w":0.014},
{"k":"Yalda Zarfeshan Fard 2019","kind":"s","e1":15,"n1":50,"e2":4,"n2":50,"or":4.93,"lo":1.50,"hi":16.16,"ci":"[1.50;\u00a0\u00a016.16]","w":0.010},
{"k":"Jyoti Mishra 2019","kind":"s","e1":6,"n1":28,"e2":21,"n2":72,"or":0.66,"lo":0.24,"hi":1.87,"ci":"[0.24;\u00a0\u00a0\u00a01.87]","w":0.012},
{"k":"Zhong Lin 2019","kind":"s","e1":37,"n1":403,"e2":11,"n2":342,"or":3.04,"lo":1.53,"hi":6.06,"ci":"[1.53;\u00a0\u00a0\u00a06.06]","w":0.017},
{"k":"Ivana Joksic 2020","kind":"s","e1":5,"n1":70,"e2":1,"n2":31,"or":2.31,"lo":0.26,"hi":20.62,"ci":"[0.26;\u00a0\u00a020.62]","w":0.004},
{"k":"Irem Yengel 2020","kind":"s","e1":21,"n1":145,"e2":11,"n2":105,"or":1.45,"lo":0.67,"hi":3.15,"ci":"[0.67;\u00a0\u00a0\u00a03.15]","w":0.016},
{"k":"Yan Zhang 2020","kind":"s","e1":11,"n1":237,"e2":43,"n2":618,"or":0.65,"lo":0.33,"hi":1.28,"ci":"[0.33;\u00a0\u00a0\u00a01.28]","w":0.017},
{"k":"Mai Mahmoud Shaker 2021","kind":"s","e1":6,"n1":100,"e2":4,"n2":100,"or":1.53,"lo":0.42,"hi":5.60,"ci":"[0.42;\u00a0\u00a0\u00a05.60]","w":0.009},
{"k":"_b","kind":"b"},
{"k":"Random effects model","kind":"m","n1":11823,"n2":11776,"or":1.60,"lo":1.36,"hi":1.87,"ci":"[1.36;\u00a0\u00a0\u00a01.87]","w":1},
{"k":"Heterogeneity: I\u00b2 = 60%, \u03c4\u00b2 = 0.2625, p < 0.01","kind":"h"}
]
},
"spacing":34,
"hconcat":[
{"spacing":0,"bounds":"flush","hconcat":[
{"width":183,"height":1297,"data":{"name":"A"},"encoding":{"y":{"field":"k","type":"nominal","sort":null,"axis":null,"scale":{"type":"band","paddingInner":0,"paddingOuter":0}}},
"layer":[
{"mark":{"type":"text"},"encoding":{"text":{"value":""}}},
{"transform":[{"filter":"datum.kind=='t'"}],"mark":{"type":"text","align":"left","fontSize":32,"dx":1,"dy":-3},"encoding":{"x":{"value":0},"text":{"field":"k","type":"nominal"}}},
{"transform":[{"filter":"datum.kind=='hd'"}],"mark":{"type":"text","align":"left","fontWeight":"bold"},"encoding":{"x":{"value":0},"text":{"value":"Study"}}},
{"transform":[{"filter":"datum.kind=='s'"}],"mark":{"type":"text","align":"left"},"encoding":{"x":{"value":0},"text":{"field":"k","type":"nominal"}}},
{"transform":[{"filter":"datum.kind=='m'"}],"mark":{"type":"text","align":"left","fontWeight":"bold"},"encoding":{"x":{"value":0},"text":{"field":"k","type":"nominal"}}},
{"transform":[{"filter":"datum.kind=='h'"}],"mark":{"type":"text","align":"left","fontSize":9.7},"encoding":{"x":{"value":0},"text":{"field":"k","type":"nominal"}}}
]},
{"width":42,"height":1297,"data":{"name":"A"},"encoding":{"y":{"field":"k","type":"nominal","sort":null,"axis":null,"scale":{"type":"band","paddingInner":0,"paddingOuter":0}}},
"layer":[
{"mark":{"type":"text"},"encoding":{"text":{"value":""}}},
{"transform":[{"filter":"datum.kind=='hd'"}],"mark":{"type":"text","align":"right","fontWeight":"bold"},"encoding":{"x":{"value":"width"},"text":{"value":"Events"}}},
{"transform":[{"filter":"datum.kind=='s'"}],"mark":{"type":"text","align":"right"},"encoding":{"x":{"value":"width"},"text":{"field":"e1","type":"nominal"}}}
]},
{"width":34,"height":1297,"data":{"name":"A"},"encoding":{"y":{"field":"k","type":"nominal","sort":null,"axis":null,"scale":{"type":"band","paddingInner":0,"paddingOuter":0}}},
"layer":[
{"mark":{"type":"text"},"encoding":{"text":{"value":""}}},
{"transform":[{"filter":"datum.kind=='hd1'"}],"mark":{"type":"text","align":"right","fontWeight":"bold"},"encoding":{"x":{"value":"width"},"text":{"value":"Intervention"}}},
{"transform":[{"filter":"datum.kind=='hd'"}],"mark":{"type":"text","align":"right","fontWeight":"bold"},"encoding":{"x":{"value":"width"},"text":{"value":"Total"}}},
{"transform":[{"filter":"datum.kind=='s'"}],"mark":{"type":"text","align":"right"},"encoding":{"x":{"value":"width"},"text":{"field":"n1","type":"nominal"}}},
{"transform":[{"filter":"datum.kind=='m'"}],"mark":{"type":"text","align":"right","fontWeight":"bold"},"encoding":{"x":{"value":"width"},"text":{"field":"n1","type":"nominal"}}}
]},
{"width":40,"height":1297,"data":{"name":"A"},"encoding":{"y":{"field":"k","type":"nominal","sort":null,"axis":null,"scale":{"type":"band","paddingInner":0,"paddingOuter":0}}},
"layer":[
{"mark":{"type":"text"},"encoding":{"text":{"value":""}}},
{"transform":[{"filter":"datum.kind=='hd'"}],"mark":{"type":"text","align":"right","fontWeight":"bold"},"encoding":{"x":{"value":"width"},"text":{"value":"Events"}}},
{"transform":[{"filter":"datum.kind=='s'"}],"mark":{"type":"text","align":"right"},"encoding":{"x":{"value":"width"},"text":{"field":"e2","type":"nominal"}}}
]},
{"width":43,"height":1297,"data":{"name":"A"},"encoding":{"y":{"field":"k","type":"nominal","sort":null,"axis":null,"scale":{"type":"band","paddingInner":0,"paddingOuter":0}}},
"layer":[
{"mark":{"type":"text"},"encoding":{"text":{"value":""}}},
{"transform":[{"filter":"datum.kind=='hd1'"}],"mark":{"type":"text","align":"right","fontWeight":"bold","dx":-9},"encoding":{"x":{"value":"width"},"text":{"value":"Control"}}},
{"transform":[{"filter":"datum.kind=='hd'"}],"mark":{"type":"text","align":"right","fontWeight":"bold","dx":-9},"encoding":{"x":{"value":"width"},"text":{"value":"Total"}}},
{"transform":[{"filter":"datum.kind=='s'"}],"mark":{"type":"text","align":"right","dx":-9},"encoding":{"x":{"value":"width"},"text":{"field":"n2","type":"nominal"}}},
{"transform":[{"filter":"datum.kind=='m'"}],"mark":{"type":"text","align":"right","fontWeight":"bold","dx":-9},"encoding":{"x":{"value":"width"},"text":{"field":"n2","type":"nominal"}}}
]},
{"width":136,"height":1297,"data":{"name":"A"},"encoding":{"y":{"field":"k","type":"nominal","sort":null,"axis":null,"scale":{"type":"band","paddingInner":0,"paddingOuter":0}}},
"layer":[
{"mark":{"type":"text"},"encoding":{"text":{"value":""}}},
{"transform":[{"filter":"datum.kind=='hd'"}],"mark":{"type":"text","align":"center","fontWeight":"bold"},"encoding":{"x":{"datum":1,"type":"quantitative","title":null,"scale":{"type":"log","domain":[0.001,1000],"nice":false}},"text":{"value":"Odds Ratio"}}},
{"transform":[{"filter":"datum.kind=='s' || datum.kind=='b' || datum.kind=='m'"}],"mark":{"type":"rule","color":"#333333","strokeWidth":1.2},"encoding":{"x":{"datum":1,"type":"quantitative","title":null,"scale":{"type":"log","domain":[0.001,1000],"nice":false}},"y":{"field":"k","type":"nominal","sort":null,"axis":null,"scale":{"type":"band","paddingInner":0,"paddingOuter":0},"bandPosition":0},"y2":{"field":"k","bandPosition":1}}},
{"transform":[{"filter":"datum.kind=='s' || datum.kind=='b' || datum.kind=='m'"}],"mark":{"type":"rule","color":"#999999","strokeWidth":1,"strokeDash":[2,2]},"encoding":{"x":{"datum":1.43,"type":"quantitative","title":null,"scale":{"type":"log","domain":[0.001,1000],"nice":false}},"y":{"field":"k","type":"nominal","sort":null,"axis":null,"scale":{"type":"band","paddingInner":0,"paddingOuter":0},"bandPosition":0},"y2":{"field":"k","bandPosition":1}}},
{"transform":[{"filter":"datum.kind=='s' && datum.w>0"}],"mark":{"type":"point","shape":"square","filled":true,"color":"#0000ff","opacity":1},"encoding":{"x":{"field":"or","type":"quantitative","title":null,"scale":{"type":"log","domain":[0.001,1000],"nice":false},"axis":{"orient":"bottom","offset":-11,"values":[0.001,0.1,1,10,1000],"format":"~g","title":null,"grid":false,"domainColor":"black","tickColor":"black","tickSize":6,"labelColor":"black","labelFontSize":11,"labelPadding":4,"labelFlush":false,"labelOverlap":false}},"size":{"field":"w","type":"quantitative","scale":{"type":"linear","domain":[0,0.015],"range":[0,121]},"legend":null}}},
{"transform":[{"filter":"datum.kind=='s' && isValid(datum.or)"}],"mark":{"type":"rule","strokeWidth":1.2},"encoding":{"x":{"field":"lo","type":"quantitative","title":null,"scale":{"type":"log","domain":[0.001,1000],"nice":false}},"x2":{"field":"hi"},"color":{"condition":{"test":"log(datum.hi/datum.lo)/LN10*22.67 <= 11*sqrt(datum.w/0.015)","value":"white"},"value":"black"}}},
{"transform":[{"filter":"datum.kind=='m'"}],"mark":{"type":"point","shape":"M0,-1L0.5,0L0,1L-0.5,0Z","filled":true,"color":"#8b0000","size":30,"opacity":1},"encoding":{"x":{"field":"or","type":"quantitative","title":null,"scale":{"type":"log","domain":[0.001,1000],"nice":false}}}}
]},
{"width":40,"height":1297,"data":{"name":"A"},"encoding":{"y":{"field":"k","type":"nominal","sort":null,"axis":null,"scale":{"type":"band","paddingInner":0,"paddingOuter":0}}},
"layer":[
{"mark":{"type":"text"},"encoding":{"text":{"value":""}}},
{"transform":[{"filter":"datum.kind=='hd'"}],"mark":{"type":"text","align":"right","fontWeight":"bold"},"encoding":{"x":{"value":"width"},"text":{"value":"OR"}}},
{"transform":[{"filter":"datum.kind=='s' && isValid(datum.or)"}],"mark":{"type":"text","align":"right"},"encoding":{"x":{"value":"width"},"text":{"field":"or","type":"quantitative","format":".2f"}}},
{"transform":[{"filter":"datum.kind=='m'"}],"mark":{"type":"text","align":"right","fontWeight":"bold"},"encoding":{"x":{"value":"width"},"text":{"field":"or","type":"quantitative","format":".2f"}}}
]},
{"width":75,"height":1297,"data":{"name":"A"},"encoding":{"y":{"field":"k","type":"nominal","sort":null,"axis":null,"scale":{"type":"band","paddingInner":0,"paddingOuter":0}}},
"layer":[
{"mark":{"type":"text"},"encoding":{"text":{"value":""}}},
{"transform":[{"filter":"datum.kind=='hd'"}],"mark":{"type":"text","align":"right","fontWeight":"bold"},"encoding":{"x":{"value":"width"},"text":{"value":"95%-CI"}}},
{"transform":[{"filter":"datum.kind=='s' && isValid(datum.ci)"}],"mark":{"type":"text","align":"right"},"encoding":{"x":{"value":"width"},"text":{"field":"ci","type":"nominal"}}},
{"transform":[{"filter":"datum.kind=='m'"}],"mark":{"type":"text","align":"right","fontWeight":"bold"},"encoding":{"x":{"value":"width"},"text":{"field":"ci","type":"nominal"}}}
]},
{"width":40,"height":1297,"data":{"name":"A"},"encoding":{"y":{"field":"k","type":"nominal","sort":null,"axis":null,"scale":{"type":"band","paddingInner":0,"paddingOuter":0}}},
"layer":[
{"mark":{"type":"text"},"encoding":{"text":{"value":""}}},
{"transform":[{"filter":"datum.kind=='hd'"}],"mark":{"type":"text","align":"right","fontWeight":"bold"},"encoding":{"x":{"value":"width"},"text":{"value":"Weight"}}},
{"transform":[{"filter":"datum.kind=='s'"}],"mark":{"type":"text","align":"right"},"encoding":{"x":{"value":"width"},"text":{"field":"w","type":"quantitative","format":".1%"}}},
{"transform":[{"filter":"datum.kind=='m'"}],"mark":{"type":"text","align":"right","fontWeight":"bold"},"encoding":{"x":{"value":"width"},"text":{"field":"w","type":"quantitative","format":".1%"}}}
]}
]},
{"spacing":0,"bounds":"flush","hconcat":[
{"width":188,"height":1297,"data":{"name":"B"},"encoding":{"y":{"field":"k","type":"nominal","sort":null,"axis":null,"scale":{"type":"band","paddingInner":0,"paddingOuter":0}}},
"layer":[
{"mark":{"type":"text"},"encoding":{"text":{"value":""}}},
{"transform":[{"filter":"datum.kind=='t'"}],"mark":{"type":"text","align":"left","fontSize":32,"dx":-5,"dy":-3},"encoding":{"x":{"value":0},"text":{"field":"k","type":"nominal"}}},
{"transform":[{"filter":"datum.kind=='hd'"}],"mark":{"type":"text","align":"left","fontWeight":"bold"},"encoding":{"x":{"value":0},"text":{"value":"Study"}}},
{"transform":[{"filter":"datum.kind=='s'"}],"mark":{"type":"text","align":"left"},"encoding":{"x":{"value":0},"text":{"field":"k","type":"nominal"}}},
{"transform":[{"filter":"datum.kind=='m'"}],"mark":{"type":"text","align":"left","fontWeight":"bold"},"encoding":{"x":{"value":0},"text":{"field":"k","type":"nominal"}}},
{"transform":[{"filter":"datum.kind=='h'"}],"mark":{"type":"text","align":"left","fontSize":9.7},"encoding":{"x":{"value":0},"text":{"field":"k","type":"nominal"}}}
]},
{"width":36,"height":1297,"data":{"name":"B"},"encoding":{"y":{"field":"k","type":"nominal","sort":null,"axis":null,"scale":{"type":"band","paddingInner":0,"paddingOuter":0}}},
"layer":[
{"mark":{"type":"text"},"encoding":{"text":{"value":""}}},
{"transform":[{"filter":"datum.kind=='hd'"}],"mark":{"type":"text","align":"right","fontWeight":"bold"},"encoding":{"x":{"value":"width"},"text":{"value":"Events"}}},
{"transform":[{"filter":"datum.kind=='s'"}],"mark":{"type":"text","align":"right"},"encoding":{"x":{"value":"width"},"text":{"field":"e1","type":"nominal"}}}
]},
{"width":34,"height":1297,"data":{"name":"B"},"encoding":{"y":{"field":"k","type":"nominal","sort":null,"axis":null,"scale":{"type":"band","paddingInner":0,"paddingOuter":0}}},
"layer":[
{"mark":{"type":"text"},"encoding":{"text":{"value":""}}},
{"transform":[{"filter":"datum.kind=='hd1'"}],"mark":{"type":"text","align":"right","fontWeight":"bold"},"encoding":{"x":{"value":"width"},"text":{"value":"Intervention"}}},
{"transform":[{"filter":"datum.kind=='hd'"}],"mark":{"type":"text","align":"right","fontWeight":"bold"},"encoding":{"x":{"value":"width"},"text":{"value":"Total"}}},
{"transform":[{"filter":"datum.kind=='s'"}],"mark":{"type":"text","align":"right"},"encoding":{"x":{"value":"width"},"text":{"field":"n1","type":"nominal"}}},
{"transform":[{"filter":"datum.kind=='m'"}],"mark":{"type":"text","align":"right","fontWeight":"bold"},"encoding":{"x":{"value":"width"},"text":{"field":"n1","type":"nominal"}}}
]},
{"width":39,"height":1297,"data":{"name":"B"},"encoding":{"y":{"field":"k","type":"nominal","sort":null,"axis":null,"scale":{"type":"band","paddingInner":0,"paddingOuter":0}}},
"layer":[
{"mark":{"type":"text"},"encoding":{"text":{"value":""}}},
{"transform":[{"filter":"datum.kind=='hd'"}],"mark":{"type":"text","align":"right","fontWeight":"bold"},"encoding":{"x":{"value":"width"},"text":{"value":"Events"}}},
{"transform":[{"filter":"datum.kind=='s'"}],"mark":{"type":"text","align":"right"},"encoding":{"x":{"value":"width"},"text":{"field":"e2","type":"nominal"}}}
]},
{"width":58,"height":1297,"data":{"name":"B"},"encoding":{"y":{"field":"k","type":"nominal","sort":null,"axis":null,"scale":{"type":"band","paddingInner":0,"paddingOuter":0}}},
"layer":[
{"mark":{"type":"text"},"encoding":{"text":{"value":""}}},
{"transform":[{"filter":"datum.kind=='hd1'"}],"mark":{"type":"text","align":"right","fontWeight":"bold","dx":-24},"encoding":{"x":{"value":"width"},"text":{"value":"Control"}}},
{"transform":[{"filter":"datum.kind=='hd'"}],"mark":{"type":"text","align":"right","fontWeight":"bold","dx":-24},"encoding":{"x":{"value":"width"},"text":{"value":"Total"}}},
{"transform":[{"filter":"datum.kind=='s'"}],"mark":{"type":"text","align":"right","dx":-24},"encoding":{"x":{"value":"width"},"text":{"field":"n2","type":"nominal"}}},
{"transform":[{"filter":"datum.kind=='m'"}],"mark":{"type":"text","align":"right","fontWeight":"bold","dx":-24},"encoding":{"x":{"value":"width"},"text":{"field":"n2","type":"nominal"}}}
]},
{"width":108,"height":1297,"data":{"name":"B"},"encoding":{"y":{"field":"k","type":"nominal","sort":null,"axis":null,"scale":{"type":"band","paddingInner":0,"paddingOuter":0}}},
"layer":[
{"mark":{"type":"text"},"encoding":{"text":{"value":""}}},
{"transform":[{"filter":"datum.kind=='hd'"}],"mark":{"type":"text","align":"center","fontWeight":"bold"},"encoding":{"x":{"datum":1,"type":"quantitative","title":null,"scale":{"type":"log","domain":[0.01,100],"nice":false}},"text":{"value":"Odds Ratio"}}},
{"transform":[{"filter":"datum.kind=='s' || datum.kind=='b' || datum.kind=='m'"}],"mark":{"type":"rule","color":"#333333","strokeWidth":1.2},"encoding":{"x":{"datum":1,"type":"quantitative","title":null,"scale":{"type":"log","domain":[0.01,100],"nice":false}},"y":{"field":"k","type":"nominal","sort":null,"axis":null,"scale":{"type":"band","paddingInner":0,"paddingOuter":0},"bandPosition":0},"y2":{"field":"k","bandPosition":1}}},
{"transform":[{"filter":"datum.kind=='s' || datum.kind=='b' || datum.kind=='m'"}],"mark":{"type":"rule","color":"#999999","strokeWidth":1,"strokeDash":[2,2]},"encoding":{"x":{"datum":1.6,"type":"quantitative","title":null,"scale":{"type":"log","domain":[0.01,100],"nice":false}},"y":{"field":"k","type":"nominal","sort":null,"axis":null,"scale":{"type":"band","paddingInner":0,"paddingOuter":0},"bandPosition":0},"y2":{"field":"k","bandPosition":1}}},
{"transform":[{"filter":"datum.kind=='s' && datum.w>0"}],"mark":{"type":"point","shape":"square","filled":true,"color":"#0000ff","opacity":1},"encoding":{"x":{"field":"or","type":"quantitative","title":null,"scale":{"type":"log","domain":[0.01,100],"nice":false},"axis":{"orient":"bottom","offset":-11,"values":[0.01,0.1,1,10,100],"format":"~g","title":null,"grid":false,"domainColor":"black","tickColor":"black","tickSize":6,"labelColor":"black","labelFontSize":11,"labelPadding":4,"labelFlush":false,"labelOverlap":false}},"size":{"field":"w","type":"quantitative","scale":{"type":"linear","domain":[0,0.022],"range":[0,121]},"legend":null}}},
{"transform":[{"filter":"datum.kind=='s' && isValid(datum.or)"}],"mark":{"type":"rule","strokeWidth":1.2},"encoding":{"x":{"field":"lo","type":"quantitative","title":null,"scale":{"type":"log","domain":[0.01,100],"nice":false}},"x2":{"field":"hi"},"color":{"condition":{"test":"log(datum.hi/datum.lo)/LN10*27.08 <= 11*sqrt(datum.w/0.022)","value":"white"},"value":"black"}}},
{"transform":[{"filter":"datum.kind=='m'"}],"mark":{"type":"point","shape":"M0,-1L0.65,0L0,1L-0.65,0Z","filled":true,"color":"#8b0000","size":30,"opacity":1},"encoding":{"x":{"field":"or","type":"quantitative","title":null,"scale":{"type":"log","domain":[0.01,100],"nice":false}}}}
]},
{"width":54,"height":1297,"data":{"name":"B"},"encoding":{"y":{"field":"k","type":"nominal","sort":null,"axis":null,"scale":{"type":"band","paddingInner":0,"paddingOuter":0}}},
"layer":[
{"mark":{"type":"text"},"encoding":{"text":{"value":""}}},
{"transform":[{"filter":"datum.kind=='hd'"}],"mark":{"type":"text","align":"right","fontWeight":"bold"},"encoding":{"x":{"value":"width"},"text":{"value":"OR"}}},
{"transform":[{"filter":"datum.kind=='s' && isValid(datum.or)"}],"mark":{"type":"text","align":"right"},"encoding":{"x":{"value":"width"},"text":{"field":"or","type":"quantitative","format":".2f"}}},
{"transform":[{"filter":"datum.kind=='m'"}],"mark":{"type":"text","align":"right","fontWeight":"bold"},"encoding":{"x":{"value":"width"},"text":{"field":"or","type":"quantitative","format":".2f"}}}
]},
{"width":69,"height":1297,"data":{"name":"B"},"encoding":{"y":{"field":"k","type":"nominal","sort":null,"axis":null,"scale":{"type":"band","paddingInner":0,"paddingOuter":0}}},
"layer":[
{"mark":{"type":"text"},"encoding":{"text":{"value":""}}},
{"transform":[{"filter":"datum.kind=='hd'"}],"mark":{"type":"text","align":"right","fontWeight":"bold"},"encoding":{"x":{"value":"width"},"text":{"value":"95%-CI"}}},
{"transform":[{"filter":"datum.kind=='s' && isValid(datum.ci)"}],"mark":{"type":"text","align":"right"},"encoding":{"x":{"value":"width"},"text":{"field":"ci","type":"nominal"}}},
{"transform":[{"filter":"datum.kind=='m'"}],"mark":{"type":"text","align":"right","fontWeight":"bold"},"encoding":{"x":{"value":"width"},"text":{"field":"ci","type":"nominal"}}}
]},
{"width":40,"height":1297,"data":{"name":"B"},"encoding":{"y":{"field":"k","type":"nominal","sort":null,"axis":null,"scale":{"type":"band","paddingInner":0,"paddingOuter":0}}},
"layer":[
{"mark":{"type":"text"},"encoding":{"text":{"value":""}}},
{"transform":[{"filter":"datum.kind=='hd'"}],"mark":{"type":"text","align":"right","fontWeight":"bold"},"encoding":{"x":{"value":"width"},"text":{"value":"Weight"}}},
{"transform":[{"filter":"datum.kind=='s'"}],"mark":{"type":"text","align":"right"},"encoding":{"x":{"value":"width"},"text":{"field":"w","type":"quantitative","format":".1%"}}},
{"transform":[{"filter":"datum.kind=='m'"}],"mark":{"type":"text","align":"right","fontWeight":"bold"},"encoding":{"x":{"value":"width"},"text":{"field":"w","type":"quantitative","format":".1%"}}}
]}
]}
]
}
